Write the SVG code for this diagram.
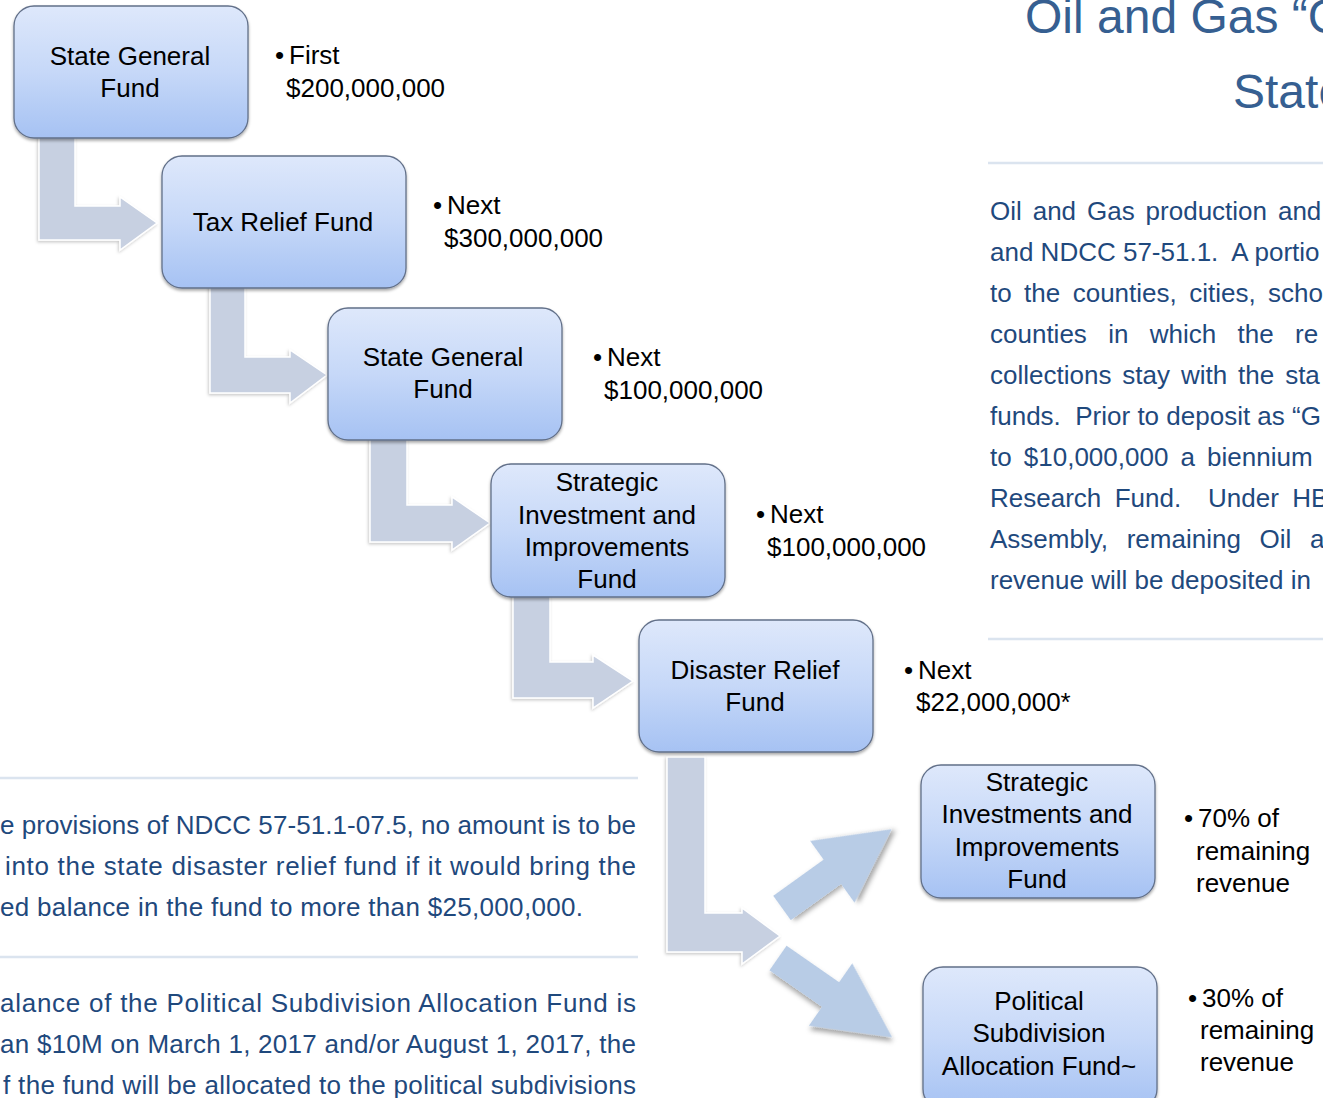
<svg xmlns="http://www.w3.org/2000/svg" width="1323" height="1098" viewBox="0 0 1323 1098">
<defs>
<linearGradient id="ng" x1="0" y1="0" x2="0" y2="1">
<stop offset="0" stop-color="#dee8fb"/>
<stop offset="0.5" stop-color="#c6d8f8"/>
<stop offset="1" stop-color="#a6c2f3"/>
</linearGradient>
<filter id="ns" x="-10%" y="-10%" width="120%" height="125%">
<feDropShadow dx="0" dy="2" stdDeviation="1.5" flood-color="#000" flood-opacity="0.35"/>
</filter>
<filter id="ls" x="-10%" y="-10%" width="125%" height="125%">
<feDropShadow dx="-1" dy="1.5" stdDeviation="1.5" flood-color="#000" flood-opacity="0.22"/>
</filter>
<filter id="ds" x="-20%" y="-20%" width="150%" height="150%">
<feDropShadow dx="3" dy="3" stdDeviation="2.5" flood-color="#000" flood-opacity="0.35"/>
</filter>
<style>
.node rect{fill:url(#ng);stroke:#627089;stroke-width:1.3;filter:url(#ns)}
.lbl{font-family:"Liberation Sans",Arial,sans-serif;font-size:26px;fill:#000;text-anchor:middle}
.bul{font-family:"Liberation Sans",Arial,sans-serif;font-size:26px;fill:#000}
.para{font-family:"Liberation Sans",Arial,sans-serif;font-size:26px;fill:#1f497d}
.title{font-family:"Liberation Sans",Arial,sans-serif;font-size:48px;fill:#365f91}
.larrow{fill:#c7d0e1;stroke:#fff;stroke-width:1.5;filter:url(#ls)}
.darrow{fill:#b8cce6;filter:url(#ds)}
.rule{stroke:#dbe4ef;stroke-width:2.5}
</style>
</defs>
<rect width="1323" height="1098" fill="#fff"/>

<g id="connectors">
<path class="larrow" d="M39 130 L75 130 L75 206 L120 206 L120 197 L157 223 L120 250 L120 240 L39 240 Z"/>
<path class="larrow" d="M210 280 L245 280 L245 357 L290 357 L290 350 L327 375 L290 403 L290 393 L210 393 Z"/>
<path class="larrow" d="M370 432 L407 432 L407 505 L452 505 L452 497 L490 523 L452 550 L452 542 L370 542 Z"/>
<path class="larrow" d="M513 590 L550 590 L550 662 L593 662 L593 655 L633 681 L593 708 L593 698 L513 698 Z"/>
<path class="larrow" d="M667 757 L705 757 L705 913 L742 913 L742 908 L780 936 L742 964 L742 952 L667 952 Z"/>
<path class="darrow" transform="translate(782 908) rotate(-35.7)" d="M0 -15 L62 -15 L62 -38 L135 0 L62 38 L62 15 L0 15 Z"/>
<path class="darrow" transform="translate(778 958) rotate(34.8)" d="M0 -15 L64 -15 L64 -38 L139 0 L64 38 L64 15 L0 15 Z"/>
</g>

<g id="node-state-general-1" class="node">
<rect x="14" y="6" width="234" height="132" rx="20"/>
<text class="lbl" x="130" y="65">State General</text>
<text class="lbl" x="130" y="97">Fund</text>
</g>
<g id="node-tax-relief" class="node">
<rect x="162" y="156" width="244" height="132" rx="20"/>
<text class="lbl" x="283" y="231">Tax Relief Fund</text>
</g>
<g id="node-state-general-2" class="node">
<rect x="328" y="308" width="234" height="132" rx="20"/>
<text class="lbl" x="443" y="366">State General</text>
<text class="lbl" x="443" y="398">Fund</text>
</g>
<g id="node-strategic-1" class="node">
<rect x="491" y="464" width="234" height="133" rx="20"/>
<text class="lbl" x="607" y="491">Strategic</text>
<text class="lbl" x="607" y="524">Investment and</text>
<text class="lbl" x="607" y="556">Improvements</text>
<text class="lbl" x="607" y="588">Fund</text>
</g>
<g id="node-disaster-relief" class="node">
<rect x="639" y="620" width="234" height="132" rx="20"/>
<text class="lbl" x="755" y="679">Disaster Relief</text>
<text class="lbl" x="755" y="711">Fund</text>
</g>
<g id="node-strategic-2" class="node">
<rect x="921" y="765" width="234" height="133" rx="20"/>
<text class="lbl" x="1037" y="791">Strategic</text>
<text class="lbl" x="1037" y="823">Investments and</text>
<text class="lbl" x="1037" y="856">Improvements</text>
<text class="lbl" x="1037" y="888">Fund</text>
</g>
<g id="node-political-subdivision" class="node">
<rect x="923" y="967" width="234" height="142" rx="20"/>
<text class="lbl" x="1039" y="1010">Political</text>
<text class="lbl" x="1039" y="1042">Subdivision</text>
<text class="lbl" x="1039" y="1075">Allocation Fund~</text>
</g>

<g id="amounts">
<text class="bul" y="64"><tspan x="275">•</tspan><tspan x="289">First</tspan></text>
<text class="bul" x="286" y="97">$200,000,000</text>
<text class="bul" y="214"><tspan x="433">•</tspan><tspan x="447">Next</tspan></text>
<text class="bul" x="444" y="247">$300,000,000</text>
<text class="bul" y="366"><tspan x="593">•</tspan><tspan x="607">Next</tspan></text>
<text class="bul" x="604" y="399">$100,000,000</text>
<text class="bul" y="523"><tspan x="756">•</tspan><tspan x="770">Next</tspan></text>
<text class="bul" x="767" y="556">$100,000,000</text>
<text class="bul" y="679"><tspan x="904">•</tspan><tspan x="918">Next</tspan></text>
<text class="bul" x="916" y="711">$22,000,000*</text>
<text class="bul" y="827"><tspan x="1184">•</tspan><tspan x="1198">70% of</tspan></text>
<text class="bul" x="1196" y="860">remaining</text>
<text class="bul" x="1196" y="892">revenue</text>
<text class="bul" y="1007"><tspan x="1188">•</tspan><tspan x="1202">30% of</tspan></text>
<text class="bul" x="1200" y="1039">remaining</text>
<text class="bul" x="1200" y="1071">revenue</text>
</g>

<g id="title">
<text class="title" x="1025" y="33">Oil and Gas “G</text>
<text class="title" x="1233" y="108">State</text>
</g>

<g id="right-paragraph">
<line class="rule" x1="988" y1="163" x2="1323" y2="163"/>
<text class="para" x="990" y="220" word-spacing="3.7">Oil and Gas production and</text>
<text class="para" x="990" y="261" xml:space="preserve">and NDCC 57-51.1.  A portio</text>
<text class="para" x="990" y="302" word-spacing="5.2">to the counties, cities, scho</text>
<text class="para" x="990" y="343" word-spacing="14.1">counties in which the re</text>
<text class="para" x="990" y="384" word-spacing="3.7">collections stay with the sta</text>
<text class="para" x="990" y="425" xml:space="preserve">funds.  Prior to deposit as “G</text>
<text class="para" x="990" y="466" word-spacing="4.9">to $10,000,000 a biennium</text>
<text class="para" x="990" y="507" word-spacing="6.2" xml:space="preserve">Research Fund.  Under HB</text>
<text class="para" x="990" y="548" word-spacing="11.5">Assembly, remaining Oil a</text>
<text class="para" x="990" y="589">revenue will be deposited in</text>
<line class="rule" x1="988" y1="639" x2="1323" y2="639"/>
</g>

<g id="left-notes">
<line class="rule" x1="0" y1="778" x2="638" y2="778"/>
<text class="para" x="0" y="834" textLength="636" lengthAdjust="spacing">e provisions of NDCC 57-51.1-07.5, no amount is to be</text>
<text class="para" x="5" y="875" textLength="631" lengthAdjust="spacing">into the state disaster relief fund if it would bring the</text>
<text class="para" x="0" y="916" textLength="583" lengthAdjust="spacing">ed balance in the fund to more than $25,000,000.</text>
<line class="rule" x1="0" y1="957" x2="638" y2="957"/>
<text class="para" x="0" y="1012" textLength="636" lengthAdjust="spacing">alance of the Political Subdivision Allocation Fund is</text>
<text class="para" x="0" y="1053" textLength="636" lengthAdjust="spacing">an $10M on March 1, 2017 and/or August 1, 2017, the</text>
<text class="para" x="3" y="1094" textLength="633" lengthAdjust="spacing">f the fund will be allocated to the political subdivisions</text>
</g>
</svg>
